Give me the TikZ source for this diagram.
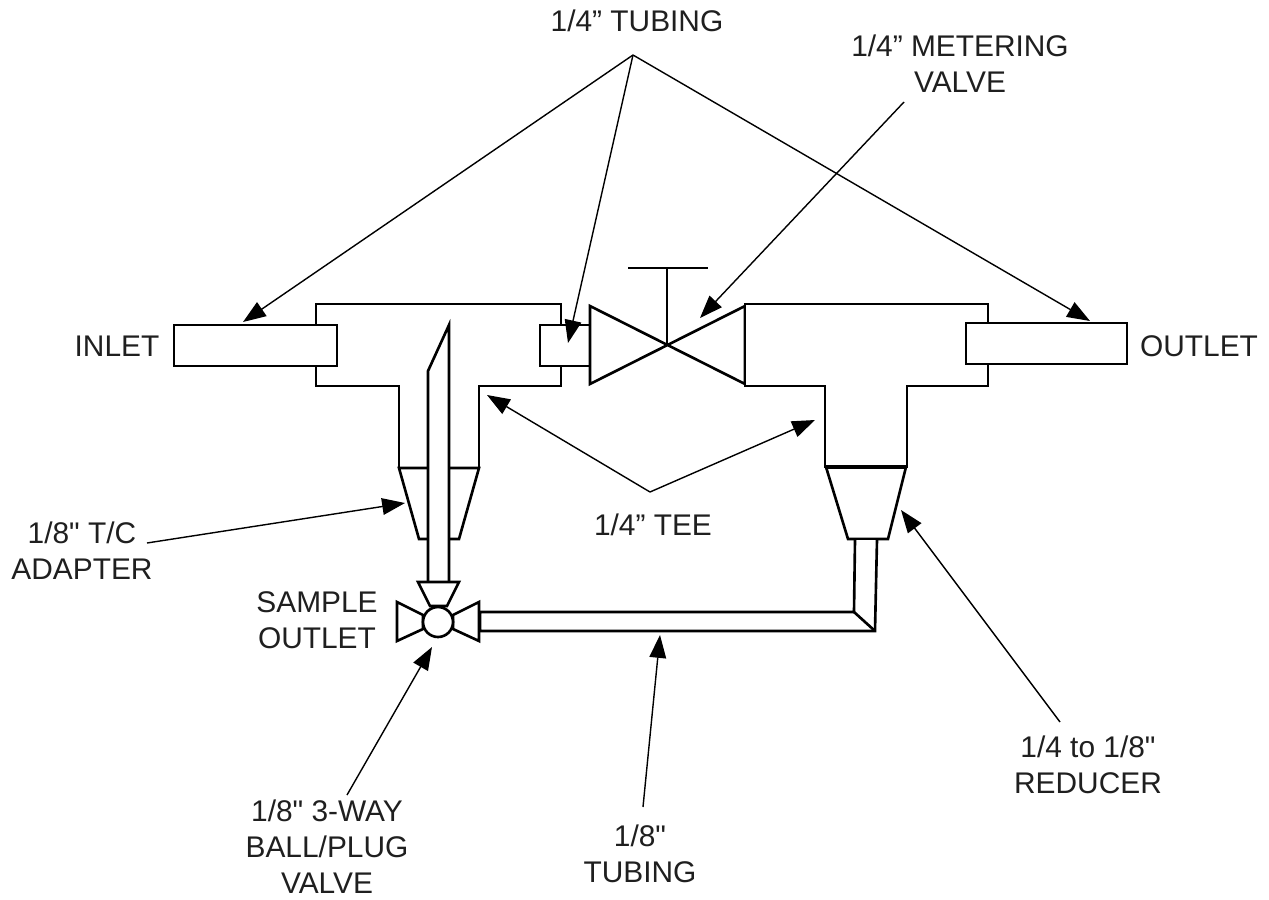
\documentclass[tikz,border=0pt]{standalone}
\usepackage{fontspec}
\setmainfont[Ligatures=TeXOff]{Liberation Sans}
\usepackage{tikz}
\usetikzlibrary{arrows.meta}
\tikzset{pipe/.style={draw=black, fill=white, line width=1.5pt, line join=miter}}
\tikzset{leader/.style={draw=black, line width=0.8pt, ->}}
\tikzset{lbl/.style={align=center, inner sep=0pt, text=black!88, font=\fontsize{17}{20.5}\selectfont}}

\begin{document}
\begin{tikzpicture}[x=0.02cm,y=-0.02cm,>={Triangle[length=13pt,width=9.5pt]}]
  \useasboundingbox (0,0) rectangle (1269,900);

  \coordinate (tubeapex) at (633,55);
  \coordinate (inlettip) at (243,322);
  \coordinate (stubtip) at (568,343);
  \coordinate (outlettip) at (1090,321);
  \coordinate (meterfrom) at (904,102);
  \coordinate (metertip) at (700,318);
  \coordinate (teeapex) at (650,492);
  \coordinate (teeltip) at (487,395);
  \coordinate (teertip) at (815,420);
  \coordinate (tcfrom) at (147,543);
  \coordinate (tctip) at (405,503);
  \coordinate (ballfrom) at (347,795);
  \coordinate (balltip) at (432,647);
  \coordinate (linefrom) at (643,807);
  \coordinate (linetip) at (660,635);
  \coordinate (reducefrom) at (1060,722);
  \coordinate (reducetip) at (901,510);

  % left tee
  \draw [pipe] (316,304) -- (561,304) -- (561,386) -- (479,386) -- (479,468)
    -- (399,468) -- (399,386) -- (316,386) -- cycle;
  \draw [pipe] (399,468) -- (479,468) -- (459,539) -- (419,539) -- cycle;
  \draw [pipe] (174,325) rectangle (337,366);
  \draw [pipe] (590,325) -- (540,325) -- (540,366) -- (590,366);
  \draw [pipe] (428,582) -- (428,371) -- (449,325) -- (449,582);

  % metering valve
  \draw [pipe] (590,306) -- (745,384) -- (745,306) -- (590,384) -- cycle;
  \draw [pipe] (667,345) -- (667,268);
  \draw [pipe] (628,268) -- (708,268);

  % right tee
  \draw [pipe] (745,304) -- (988,304) -- (988,386) -- (907,386) -- (907,467)
    -- (825,467) -- (825,386) -- (745,386) -- cycle;
  \draw [pipe] (826,467) -- (906,467) -- (888,539) -- (848,539) -- cycle;
  \draw [pipe, line width=2.2pt, fill=none] (826,467) -- (906,467);
  \draw [pipe] (966,323) rectangle (1127,364);

  % small line back to the sample valve
  \draw [pipe] (855,540) -- (854,612) -- (480,612) -- (480,631) -- (875,631)
    -- (877,540);
  \draw [pipe] (854,612) -- (875,631);

  % sample valve
  \draw [pipe] (418,582) -- (459,582) -- (447,606) -- (430,606) -- cycle;
  \draw [pipe] (397,602) -- (423,615) -- (423,629) -- (397,641) -- cycle;
  \draw [pipe] (479,602) -- (453,615) -- (453,629) -- (479,641) -- cycle;
  \draw [pipe] (438,622) circle (15);

  \draw [leader] (tubeapex) -- (inlettip);
  \draw [leader] (tubeapex) -- (stubtip);
  \draw [leader] (tubeapex) -- (outlettip);
  \draw [leader] (meterfrom) -- (metertip);
  \draw [leader] (teeapex) -- (teeltip);
  \draw [leader] (teeapex) -- (teertip);
  \draw [leader] (tcfrom) -- (tctip);
  \draw [leader] (ballfrom) -- (balltip);
  \draw [leader] (linefrom) -- (linetip);
  \draw [leader] (reducefrom) -- (reducetip);

  \node [lbl] (tubelbl) at (637,21) {1/4” TUBING};
  \node [lbl] (meterlbl) at (960,64) {1/4” METERING\\VALVE};
  \node [lbl] (inletlbl) at (117,346) {INLET};
  \node [lbl] (outletlbl) at (1199,346) {OUTLET};
  \node [lbl] (teelbl) at (653,525) {1/4” TEE};
  \node [lbl] (tclbl) at (82,551) {1/8" T/C\\ADAPTER};
  \node [lbl] (samplelbl) at (317,620) {SAMPLE\\OUTLET};
  \node [lbl] (balllbl) at (327,847) {1/8" 3-WAY\\BALL/PLUG\\VALVE};
  \node [lbl] (linelbl) at (640,854) {1/8"\\TUBING};
  \node [lbl] (reducelbl) at (1088,765) {1/4 to 1/8"\\REDUCER};
\end{tikzpicture}
\end{document}
